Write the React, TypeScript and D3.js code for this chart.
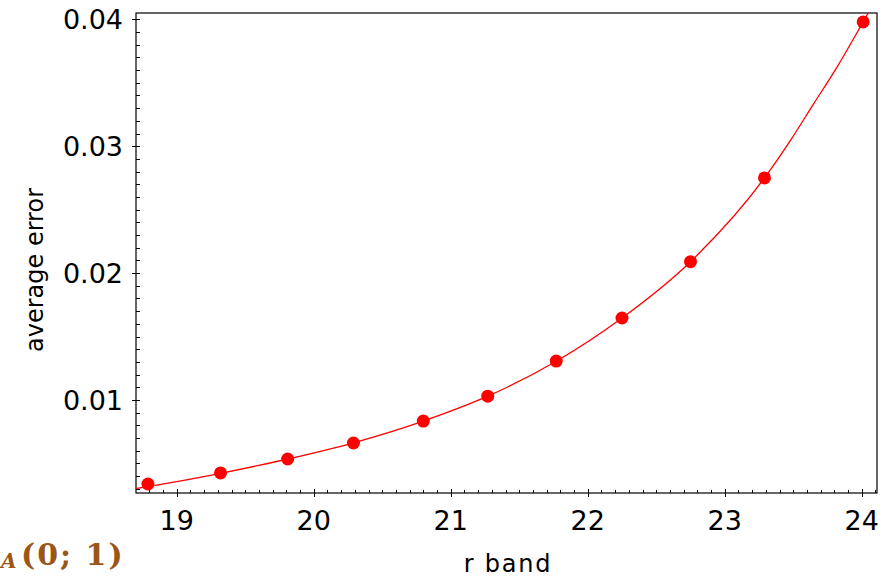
import { useEffect, useRef } from "react"
import * as d3 from "d3"

// r band magnitudes and the measured average error
const rBand = [18.79, 19.32, 19.81, 20.29, 20.8, 21.27, 21.77, 22.25, 22.75, 23.29, 24.01]
const avgError = [0.00338, 0.00425, 0.00535, 0.00661, 0.00834, 0.0103, 0.01307, 0.01646, 0.0209, 0.0275, 0.0398]

// fitted curve (runs edge to edge)
const fitX = [18.703, 18.79, 19.32, 19.81, 20.29, 20.8, 21.27, 21.77, 22.25, 22.75, 23.29, 23.476, 23.646, 23.817, 24.01, 24.047]
const fitY = [0.00303, 0.00318, 0.00422, 0.00535, 0.00663, 0.00834, 0.0103, 0.01305, 0.01646, 0.0209, 0.0275, 0.0304, 0.0333, 0.0362, 0.0398, 0.0405]

const xMajor = [19, 20, 21, 22, 23, 24]
const yMajor = [0.01, 0.02, 0.03, 0.04]

export default function App() {
  const svgRef = useRef<SVGSVGElement>(null)

  useEffect(() => {
    const svg = d3.select(svgRef.current)
    svg.selectAll("*").remove()

    const left = 136, right = 877, top = 13, bottom = 493
    const x = d3.scaleLinear().domain([18.703, 24.111]).range([left, right])
    const y = d3.scaleLinear().domain([0.00267, 0.0405]).range([bottom, top])

    svg.append("defs").append("clipPath")
      .attr("id", "plot-clip")
      .append("rect")
      .attr("x", left).attr("y", top)
      .attr("width", right - left).attr("height", bottom - top)

    // frame
    svg.append("rect")
      .attr("x", left).attr("y", top)
      .attr("width", right - left).attr("height", bottom - top)
      .attr("fill", "none")
      .attr("stroke", "#000")
      .attr("stroke-width", 1.2)

    const xMinor = d3.range(188, 242).map(d => d / 10)
    const yMinor = d3.range(3, 41).map(d => d / 1000)

    const ticks = svg.append("g").attr("stroke", "#000").attr("stroke-width", 1)
    ticks.selectAll("line.xm")
      .data(xMinor)
      .join("line")
      .attr("x1", d => Math.round(x(d)) + 0.5).attr("x2", d => Math.round(x(d)) + 0.5)
      .attr("y1", bottom).attr("y2", bottom - 3)
    ticks.selectAll("line.xM")
      .data(xMajor)
      .join("line")
      .attr("x1", d => Math.round(x(d)) + 0.5).attr("x2", d => Math.round(x(d)) + 0.5)
      .attr("y1", bottom + 4).attr("y2", bottom - 4)
    ticks.selectAll("line.ym")
      .data(yMinor)
      .join("line")
      .attr("x1", left).attr("x2", left + 4)
      .attr("y1", d => Math.round(y(d)) + 0.5).attr("y2", d => Math.round(y(d)) + 0.5)
    ticks.selectAll("line.yM")
      .data(yMajor)
      .join("line")
      .attr("x1", left - 4).attr("x2", left + 4)
      .attr("y1", d => Math.round(y(d)) + 0.5).attr("y2", d => Math.round(y(d)) + 0.5)

    const font = "'DejaVu Sans', sans-serif"

    svg.append("g").selectAll("text")
      .data(xMajor)
      .join("text")
      .attr("x", d => x(d))
      .attr("y", 530)
      .attr("text-anchor", "middle")
      .attr("font-family", font)
      .attr("font-size", 27)
      .text(d => String(d))

    svg.append("g").selectAll("text")
      .data(yMajor)
      .join("text")
      .attr("x", 123)
      .attr("y", d => y(d) + 10)
      .attr("text-anchor", "end")
      .attr("font-family", font)
      .attr("font-size", 27)
      .text(d => d3.format(".2f")(d))

    svg.append("text")
      .attr("x", 508).attr("y", 572)
      .attr("text-anchor", "middle")
      .attr("font-family", font)
      .attr("font-size", 24)
      .attr("letter-spacing", 1.8)
      .text("r band")

    svg.append("text")
      .attr("transform", "translate(43,270) rotate(-90)")
      .attr("text-anchor", "middle")
      .attr("font-family", font)
      .attr("font-size", 24)
      .text("average error")

    // fit line
    const line = d3.line<number>()
      .x((_, i) => x(fitX[i]))
      .y(d => y(d))
      .curve(d3.curveMonotoneX)

    svg.append("path")
      .datum(fitY)
      .attr("clip-path", "url(#plot-clip)")
      .attr("d", line)
      .attr("fill", "none")
      .attr("stroke", "#ff0000")
      .attr("stroke-width", 1.3)

    svg.append("g").selectAll("circle")
      .data(avgError)
      .join("circle")
      .attr("cx", (_, i) => x(rBand[i]))
      .attr("cy", d => y(d))
      .attr("r", 6.5)
      .attr("fill", "#ff0000")

    // stray caption fragment at bottom-left
    svg.append("text")
      .attr("x", 1).attr("y", 568)
      .attr("fill", "#9b5516")
      .attr("font-family", "'DejaVu Serif', serif")
      .attr("font-weight", "bold")
      .attr("font-style", "italic")
      .attr("font-size", 20)
      .text("A")
    svg.append("text")
      .attr("x", 21).attr("y", 565)
      .attr("fill", "#9b5516")
      .attr("font-family", "'DejaVu Serif', serif")
      .attr("font-weight", "bold")
      .attr("font-size", 30)
      .attr("letter-spacing", 2)
      .text("(0; 1)")
  }, [])

  return (
    <svg
      ref={svgRef}
      width={890}
      height={578}
      style={{ position: "absolute", left: 0, top: 0, background: "#fff" }}
    />
  )
}
